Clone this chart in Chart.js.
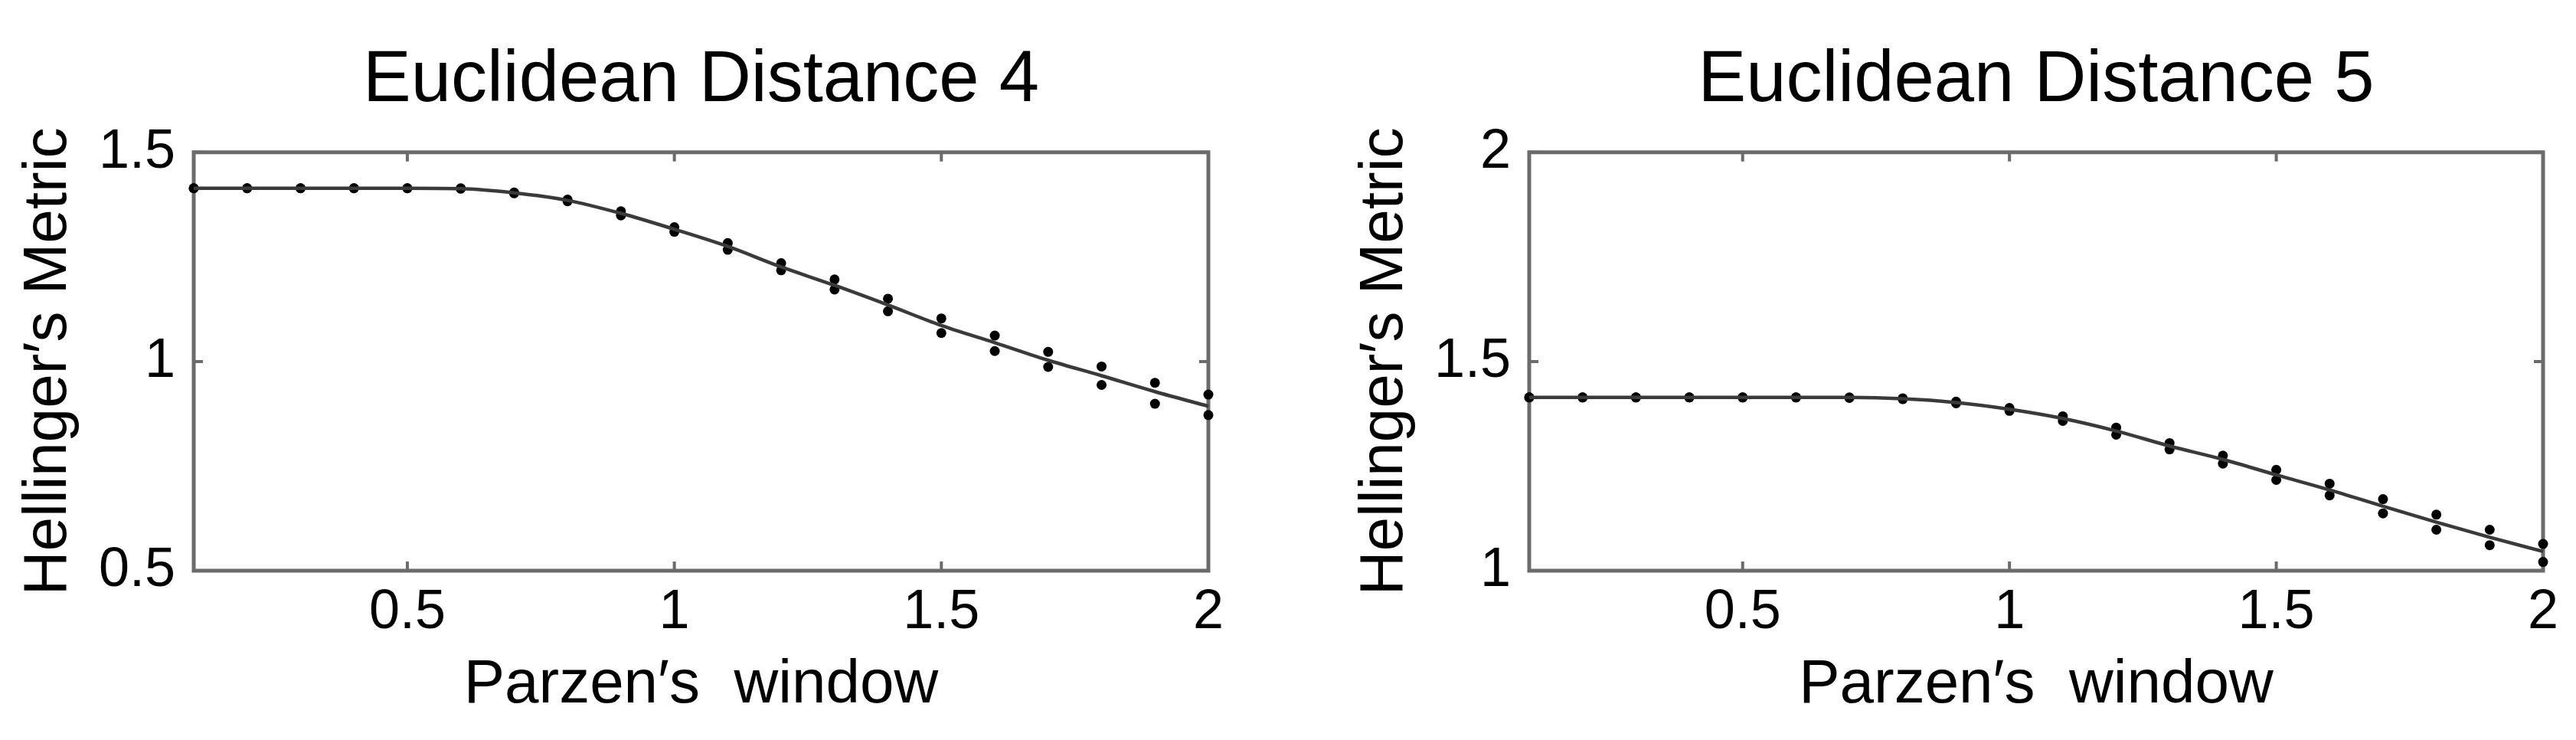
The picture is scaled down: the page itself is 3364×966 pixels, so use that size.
<!DOCTYPE html>
<html>
<head>
<meta charset="utf-8">
<script src="https://cdn.jsdelivr.net/npm/chart.js@4.4.1/dist/chart.umd.min.js"></script>
<style>
  html, body { margin: 0; padding: 0; background: #fff; }
  .panel { position: absolute; top: 0; width: 1682px; height: 966px; }
</style>
</head>
<body>
<div class="panel" style="left:0"><canvas id="ed4"></canvas></div>
<div class="panel" style="left:1682px"><canvas id="ed5"></canvas></div>
<script>
// Parzen window widths (x) shared by both panels
const parzen = [0.1, 0.2, 0.3, 0.4, 0.5, 0.6, 0.7, 0.8, 0.9, 1.0, 1.1, 1.2, 1.3, 1.4, 1.5, 1.6, 1.7, 1.8, 1.9, 2.0];
const xTicks = [0.5, 1, 1.5, 2];

// Euclidean distance 4
const ed4Curve = [1.414, 1.414, 1.414, 1.414, 1.414, 1.413, 1.403, 1.385, 1.354, 1.316, 1.275, 1.226, 1.182, 1.135, 1.086, 1.045, 1.003, 0.966, 0.928, 0.893];
const ed4Upper = [1.414, 1.414, 1.414, 1.414, 1.414, 1.414, 1.404, 1.387, 1.359, 1.321, 1.283, 1.235, 1.196, 1.150, 1.103, 1.062, 1.023, 0.988, 0.949, 0.921];
const ed4Lower = [1.414, 1.414, 1.414, 1.414, 1.414, 1.413, 1.402, 1.383, 1.349, 1.310, 1.267, 1.218, 1.172, 1.120, 1.068, 1.025, 0.987, 0.944, 0.899, 0.872];
const ed4YTicks = [0.5, 1, 1.5];

// Euclidean distance 5
const ed5Curve = [1.414, 1.414, 1.414, 1.414, 1.414, 1.414, 1.414, 1.411, 1.402, 1.386, 1.364, 1.334, 1.298, 1.266, 1.229, 1.193, 1.154, 1.116, 1.080, 1.046];
const ed5Upper = [1.414, 1.414, 1.414, 1.414, 1.414, 1.414, 1.414, 1.412, 1.404, 1.389, 1.369, 1.342, 1.305, 1.275, 1.241, 1.208, 1.171, 1.134, 1.098, 1.064];
const ed5Lower = [1.414, 1.414, 1.414, 1.414, 1.414, 1.414, 1.413, 1.410, 1.400, 1.382, 1.358, 1.325, 1.290, 1.256, 1.217, 1.180, 1.137, 1.098, 1.061, 1.021];
const ed5YTicks = [1, 1.5, 2];

const FONT = '"Liberation Sans", Arial, Helvetica, sans-serif';
const AXIS = '#6b6b6b';
const TICK_LEN = 12;

const pts = ys => ys.map((y, i) => ({x: parzen[i], y}));

// matlab-like box with inward ticks on all four sides
const boxPlugin = {
  id: 'box',
  beforeDatasetsDraw(chart) {
    const {ctx, chartArea: a, scales: {x, y}} = chart;
    ctx.save();
    ctx.strokeStyle = AXIS;
    ctx.lineWidth = 5;
    ctx.strokeRect(a.left, a.top, a.width, a.height);
    ctx.lineWidth = 4;
    ctx.beginPath();
    x.ticks.forEach(t => {
      const px = x.getPixelForValue(t.value);
      ctx.moveTo(px, a.bottom); ctx.lineTo(px, a.bottom - TICK_LEN);
      ctx.moveTo(px, a.top); ctx.lineTo(px, a.top + TICK_LEN);
    });
    y.ticks.forEach(t => {
      const py = y.getPixelForValue(t.value);
      ctx.moveTo(a.left, py); ctx.lineTo(a.left + TICK_LEN, py);
      ctx.moveTo(a.right, py); ctx.lineTo(a.right - TICK_LEN, py);
    });
    ctx.stroke();
    ctx.restore();
  }
};

function makeChart(id, title, curve, upper, lower, yMin, yMax, yTicks, axisW, padRight, yTitlePad) {
  const dots = {type: 'scatter', showLine: false, pointRadius: 6.5, pointHoverRadius: 6.5, pointBorderWidth: 0, backgroundColor: '#000', clip: false};
  return new Chart(document.getElementById(id), {
    type: 'scatter',
    data: {
      datasets: [
        {data: pts(curve), showLine: true, borderColor: '#3a3a3a', borderWidth: 4.5, pointRadius: 0, cubicInterpolationMode: 'monotone', clip: false},
        Object.assign({data: pts(upper)}, dots),
        Object.assign({data: pts(lower)}, dots)
      ]
    },
    options: {
      responsive: true,
      maintainAspectRatio: false,
      animation: false,
      devicePixelRatio: 1,
      layout: {padding: {left: 0, right: padRight, top: 0, bottom: 0}},
      plugins: {
        legend: {display: false},
        tooltip: {enabled: false},
        title: {display: true, text: title, fullSize: false, color: '#000', font: {family: FONT, size: 94, weight: 'normal'}, padding: {top: 50, bottom: 36}}
      },
      scales: {
        x: {
          type: 'linear', min: 0.1, max: 2,
          grid: {display: false, drawTicks: false},
          border: {display: false},
          afterBuildTicks: s => { s.ticks = xTicks.map(v => ({value: v})); },
          afterFit: s => { s.height = 221; },
          ticks: {color: '#000', padding: 12, font: {family: FONT, size: 72}, callback: v => String(v)},
          title: {display: true, text: 'Parzen′s  window', color: '#000', font: {family: FONT, size: 80}, padding: {top: 0, bottom: 23}}
        },
        y: {
          type: 'linear', min: yMin, max: yMax,
          grid: {display: false, drawTicks: false},
          border: {display: false},
          afterBuildTicks: s => { s.ticks = yTicks.map(v => ({value: v})); },
          afterFit: s => { s.width = axisW; },
          ticks: {color: '#000', padding: 24, font: {family: FONT, size: 72}, callback: v => String(v)},
          title: {display: true, text: 'Hellinger′s Metric', color: '#000', font: {family: FONT, size: 80}, padding: {top: yTitlePad, bottom: 0}}
        }
      }
    },
    plugins: [boxPlugin]
  });
}

makeChart('ed4', 'Euclidean Distance 4', ed4Curve, ed4Upper, ed4Lower, 0.5, 1.5, ed4YTicks, 253, 104, 16);
makeChart('ed5', 'Euclidean Distance 5', ed5Curve, ed5Upper, ed5Lower, 1, 2, ed5YTicks, 315, 43, 79);
</script>
</body>
</html>
